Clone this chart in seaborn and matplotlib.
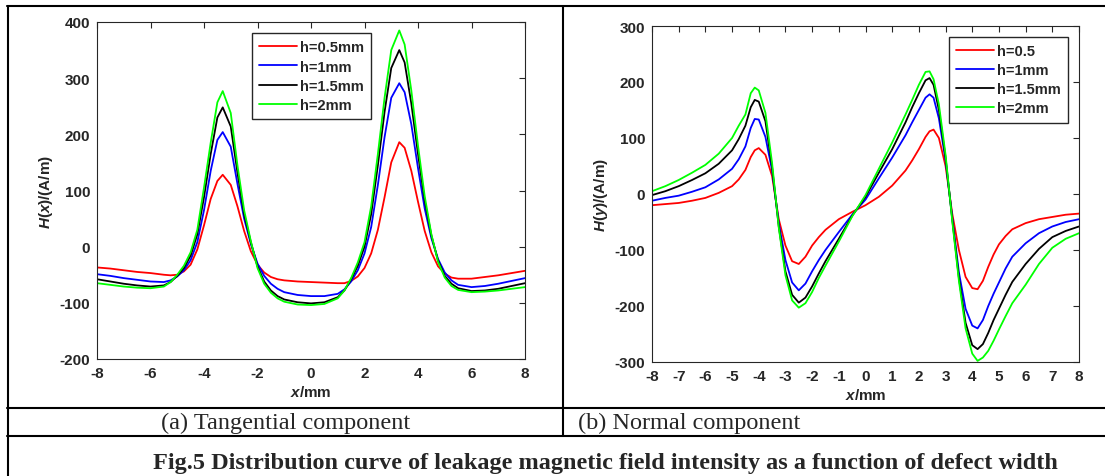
import pandas as pd
import matplotlib.pyplot as plt
import seaborn as sns
from matplotlib.lines import Line2D

# --- data ---
LABELS_TAN = ["h=0.5mm", "h=1mm", "h=1.5mm", "h=2mm"]
LABELS_NOR = ["h=0.5", "h=1mm", "h=1.5mm", "h=2mm"]
COLORS = ["#ff0000", "#0000ff", "#000000", "#00ff00"]

# (a) tangential component H(x)
X_TAN = [-8, -7.5, -7, -6.5, -6, -5.5,
         -5.25, -5, -4.75, -4.5, -4.25, -4, -3.75, -3.5, -3.3, -3, -2.75, -2.5,
         -2.25, -2, -1.75, -1.5, -1.25, -1,
         -0.5, 0, 0.5,
         1, 1.25, 1.5, 1.75, 2, 2.25, 2.5, 2.75, 3, 3.3, 3.5, 3.75, 4, 4.25,
         4.5, 4.75, 5, 5.25, 5.5,
         6, 6.5, 7, 7.5, 8]
TAN_H05 = [-37, -39, -42, -45, -47, -50,
           -51, -50, -44, -32, -5, 38, 85, 117, 128, 110, 72, 28,
           -8, -32, -46, -54, -58, -60,
           -62, -63, -64,
           -65, -65, -61, -53, -38, -12, 30, 88, 150, 186, 176, 135, 80, 28,
           -10, -35, -48, -55, -57,
           -57, -54, -51, -47, -43]
TAN_H1 = [-49, -52, -56, -59, -62, -63,
          -60, -53, -42, -24, 8, 65, 135, 190, 204, 178, 112, 50,
          5, -30, -52, -66, -75, -81,
          -86, -88, -88,
          -84, -76, -62, -42, -12, 35, 110, 195, 265, 291, 275, 218, 140, 68,
          15, -22, -46, -60, -68,
          -72, -70, -66, -61, -56]
TAN_H15 = [-58, -62, -66, -69, -71, -69,
           -63, -52, -38, -16, 22, 88, 165, 230, 248, 214, 132, 58,
           8, -35, -62, -78, -88, -94,
           -99, -101, -99,
           -90, -78, -58, -34, 0, 58, 145, 240, 318, 350, 328, 255, 165, 82,
           20, -25, -52, -66, -74,
           -79, -78, -75, -70, -65]
TAN_H2 = [-65, -68, -71, -73, -74, -71,
          -63, -50, -34, -10, 30, 105, 185, 257, 277, 238, 145, 65,
          10, -38, -66, -82, -92, -98,
          -103, -104, -102,
          -92, -78, -56, -28, 8, 72, 165, 265, 350, 385, 360, 278, 180, 90,
          22, -27, -55, -70, -77,
          -81, -80, -78, -75, -72]

# (b) normal component H(y)
X_NOR = [-8, -7.5, -7, -6.5, -6, -5.5, -5,
         -4.75, -4.5, -4.3, -4.15, -4, -3.75, -3.5, -3.25, -3, -2.75, -2.5,
         -2.25, -2, -1.75, -1.5,
         -1, -0.5, 0, 0.5, 1,
         1.5, 1.75, 2, 2.25, 2.4, 2.55, 2.75, 3, 3.25, 3.5, 3.75, 4, 4.2,
         4.4, 4.6, 4.8, 5, 5.25, 5.5,
         6, 6.5, 7, 7.5, 8]
NOR_H05 = [-20, -18, -16, -12, -7, 2, 14,
           26, 43, 66, 78, 82, 70, 32, -45, -92, -120, -125, -112, -92, -77, -64,
           -45, -32, -20, -5, 15,
           42, 60, 80, 102, 112, 115, 100, 50, -35, -100, -148, -168, -170,
           -155, -130, -108, -90, -75, -63,
           -52, -45, -41, -37, -35]
NOR_H1 = [-12, -7, -3, 4, 12, 26, 45,
          62, 85, 118, 134, 133, 102, 42, -52, -118, -158, -172, -160, -138, -118, -100,
          -68, -37, -10, 28, 65,
          105, 128, 150, 172, 178, 172, 135, 60, -42, -140, -205, -235, -240,
          -225, -200, -178, -158, -133, -112,
          -88, -70, -58, -50, -45]
NOR_H15 = [-2, 5, 14, 25, 37, 54, 78,
           98, 122, 155, 168, 165, 130, 48, -58, -138, -180, -194, -185, -165, -142, -120,
           -80, -39, -5, 38, 80,
           128, 155, 180, 203, 207, 195, 150, 65, -45, -150, -230, -270, -277,
           -268, -248, -225, -205, -180, -157,
           -125, -98, -77, -66, -58]
NOR_H2 = [5, 14, 25, 38, 52, 72, 100,
          122, 142, 180, 190, 185, 145, 55, -60, -145, -190, -203, -195, -175, -150, -128,
          -85, -40, -2, 45, 92,
          142, 168, 195, 218, 219, 205, 160, 70, -48, -155, -240, -285, -298,
          -292, -280, -262, -242, -218, -195,
          -162, -125, -96, -80, -70]

TAN_TICKS = [-8, -6, -4, -2, 0, 2, 4, 6, 8]
NOR_TICKS = list(range(-8, 9))

# --- style ---
sns.set_style("white")
plt.rcParams["font.family"] = ["Liberation Sans", "DejaVu Sans"]
plt.rcParams["axes.unicode_minus"] = False
plt.rcParams["mathtext.fontset"] = "custom"
plt.rcParams["mathtext.it"] = "Liberation Sans:italic:bold"
plt.rcParams["mathtext.rm"] = "Liberation Sans:bold"
plt.rcParams["mathtext.bf"] = "Liberation Sans:bold"

AX_COL = "#262626"


def to_frame(x, series, labels):
    parts = []
    for vals, lab in zip(series, labels):
        parts.append(pd.DataFrame({"x": x, "H": vals, "h": lab}))
    return pd.concat(parts, ignore_index=True)


def draw_panel(ax, df, labels, xticks, ylim, yticks, ylabel, leg_anchor):
    pal = dict(zip(labels, COLORS))
    sns.lineplot(data=df, x="x", y="H", hue="h", hue_order=labels,
                 palette=pal, estimator=None, sort=False, linewidth=1.3, ax=ax)
    ax.set_xlim(-8, 8)
    ax.set_ylim(*ylim)
    ax.set_xticks(xticks)
    ax.set_yticks(yticks)
    ax.tick_params(direction="in", length=4, width=0.8, colors=AX_COL,
                   labelsize=11, top=True, right=True, pad=5)
    for t in ax.get_xticklabels() + ax.get_yticklabels():
        t.set_fontweight("bold")
    for s in ax.spines.values():
        s.set_color(AX_COL)
        s.set_linewidth(0.8)
    ax.set_xlabel(r"$\mathit{x}$/mm", fontsize=11, fontweight="bold",
                  color=AX_COL, labelpad=3)
    ax.set_ylabel(ylabel, fontsize=11, fontweight="bold", color=AX_COL,
                  labelpad=3)
    handles, labs = ax.get_legend_handles_labels()
    leg = ax.legend(handles, labs, loc="upper left", bbox_to_anchor=leg_anchor,
                    borderaxespad=0, fancybox=False, framealpha=1,
                    edgecolor=AX_COL, handlelength=2.6, handletextpad=0.2,
                    labelspacing=0.35, borderpad=0.5,
                    prop={"size": 10.5, "weight": "bold"})
    leg.get_frame().set_linewidth(1.0)


W, H = 1105, 477
fig = plt.figure(figsize=(W / 100, H / 100), dpi=100)

# axes boxes in pixels (left, top, right, bottom)
ax1 = fig.add_axes([97 / W, 1 - 360 / H, (525 - 97) / W, (360 - 23) / H])
ax2 = fig.add_axes([652 / W, 1 - 363 / H, (1079 - 652) / W, (363 - 27) / H])

df_tan = to_frame(X_TAN, [TAN_H05, TAN_H1, TAN_H15, TAN_H2], LABELS_TAN)
df_nor = to_frame(X_NOR, [NOR_H05, NOR_H1, NOR_H15, NOR_H2], LABELS_NOR)

draw_panel(ax1, df_tan, LABELS_TAN, TAN_TICKS, (-200, 400),
           list(range(-200, 401, 100)), r"$\mathit{H(x)}$/(A/m)", (0.362, 0.967))
draw_panel(ax2, df_nor, LABELS_NOR, NOR_TICKS, (-300, 300),
           list(range(-300, 301, 100)), r"$\mathit{H(y)}$/(A/m)", (0.6956, 0.968))

# table rules around the two panels
def hline(y, x0, x1):
    fig.add_artist(Line2D([x0 / W, x1 / W], [1 - y / H, 1 - y / H],
                          color="black", lw=1.5))


def vline(x, y0, y1):
    fig.add_artist(Line2D([x / W, x / W], [1 - y0 / H, 1 - y1 / H],
                          color="black", lw=1.5))


hline(7, 7, W)
hline(409, 7, W)
hline(437, 7, W)
vline(7.5, 7, H)
vline(563, 7, 437)

fig.text(286 / W, 1 - 423 / H, "(a) Tangential component", ha="center",
         va="center", fontsize=17.5, family="Liberation Serif")
fig.text(578 / W, 1 - 423 / H, "(b) Normal component", ha="left",
         va="center", fontsize=17.5, family="Liberation Serif")
fig.text(605 / W, 1 - 464 / H,
         "Fig.5 Distribution curve of leakage magnetic field intensity as a function of defect width",
         ha="center", va="center", fontsize=17.5, fontweight="bold",
         family="Liberation Serif")

fig.savefig("out.png", dpi=100)
